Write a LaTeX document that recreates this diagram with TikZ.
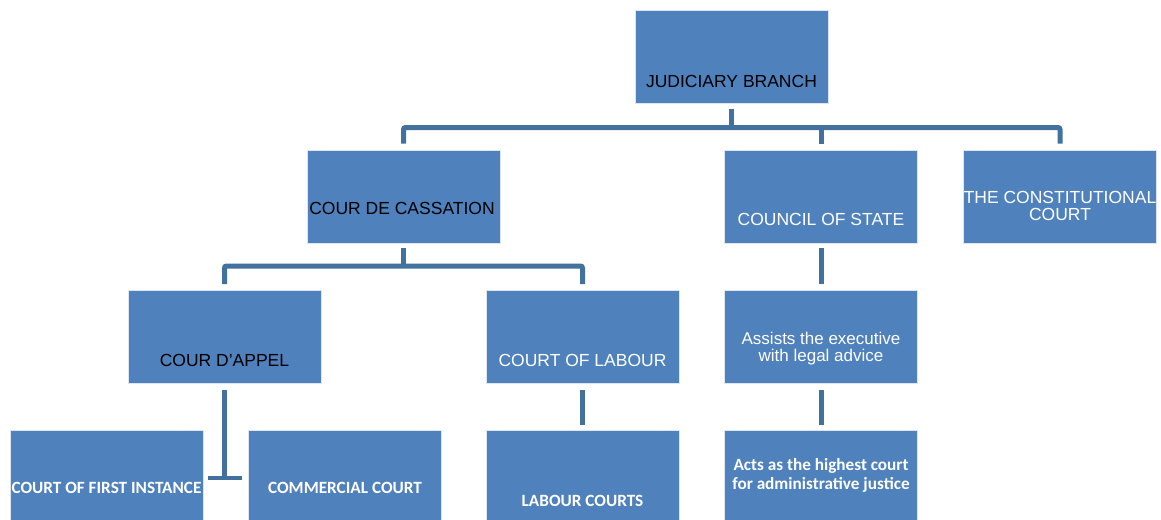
\documentclass[tikz,border=0pt]{standalone}
\usepackage{fontspec}
\setmainfont{Liberation Sans}
\newfontfamily\calfont{Carlito}
\usetikzlibrary{calc}
\definecolor{boxblue}{HTML}{4F81BD}
\definecolor{linkblue}{HTML}{41719C}
\begin{document}
\begin{tikzpicture}[x=1pt,y=-1pt,
  box/.style={draw=white!80!boxblue, line width=0.6pt, fill=boxblue, minimum width=193pt, minimum height=93pt, inner sep=0pt},
  conn/.style={draw=linkblue, line width=5pt, rounded corners=2pt},
  hd/.style={font=\fontsize{17.5}{17}\selectfont, align=center, inner sep=0pt},
  hdw/.style={hd, text=white},
  bd/.style={font=\calfont\bfseries\fontsize{17.2}{19}\selectfont, text=white, align=center, inner sep=0pt},
  rg/.style={font=\fontsize{17}{17}\selectfont, text=white, align=center, inner sep=0pt}
]
\useasboundingbox (0,0) rectangle (1161,519);
% boxes
\node[box] (jb) at (731.5,56.5) {};
\node[box] (cc) at (403.5,196.5) {};
\node[box] (cs) at (821,196.5) {};
\node[box] (tc) at (1060,196.5) {};
\node[box] (ca) at (224.5,337) {};
\node[box] (cl) at (582.5,337) {};
\node[box] (as) at (821,337) {};
\node[box] (fi) at (106.5,476.5) {};
\node[box] (cm) at (345,476.5) {};
\node[box] (lc) at (582.5,476.5) {};
\node[box] (ac) at (821,476.5) {};
% texts
\node[hd] (tjb) at (731.5,81) {JUDICIARY BRANCH};
\node[hd] (tcc) at (402,208) {COUR DE CASSATION};
\node[hdw] (tcs) at (821,219) {COUNCIL OF STATE};
\node[hdw] (ttc) at (1060,205.5) {THE CONSTITUTIONAL\\COURT};
\node[hd] (tca) at (224.5,360) {COUR D’APPEL};
\node[hdw] (tcl) at (582.5,360) {COURT OF LABOUR};
\node[rg] (tas) at (821,349) {Assists the executive\\with legal advice};
\node[bd] (tfi) at (106.5,488) {COURT OF FIRST INSTANCE};
\node[bd] (tcm) at (345,488) {COMMERCIAL COURT};
\node[bd] (tlc) at (582.5,501) {LABOUR COURTS};
\node[bd] (tac) at (821,475.5) {Acts as the highest court\\for administrative justice};
% connector coordinates
\coordinate (bar1) at (0,127.5);
\coordinate (bar2) at (0,266);
\coordinate (tee) at (0,478);
% top level
\draw[conn] ([yshift=-6pt]jb.south) -- (jb.south |- bar1);
\draw[conn] ([yshift=6pt]cc.north) -- (cc.north |- bar1) -- (tc.north |- bar1) -- ([yshift=6pt]tc.north);
\draw[conn] (cs.north |- bar1) -- ([yshift=6pt]cs.north);
% cour de cassation level
\draw[conn] ([yshift=-5pt]cc.south) -- (cc.south |- bar2);
\draw[conn] ([yshift=6pt]ca.north) -- (ca.north |- bar2) -- (cl.north |- bar2) -- ([yshift=6pt]cl.north);
% cour d'appel T
\draw[conn, rounded corners=0pt] ([yshift=-6pt]ca.south) -- (ca.south |- tee);
\draw[conn, line width=4pt, rounded corners=0pt] ([xshift=5pt]fi.east |- tee) -- ([xshift=-6pt]cm.west |- tee);
% single chains
\draw[conn, rounded corners=0pt] ([yshift=-6pt]cl.south) -- ([yshift=5pt]lc.north);
\draw[conn, rounded corners=0pt] ([yshift=-5pt]cs.south) -- ([yshift=6pt]as.north);
\draw[conn, rounded corners=0pt] ([yshift=-6pt]as.south) -- ([yshift=5pt]ac.north);
\end{tikzpicture}
\end{document}
